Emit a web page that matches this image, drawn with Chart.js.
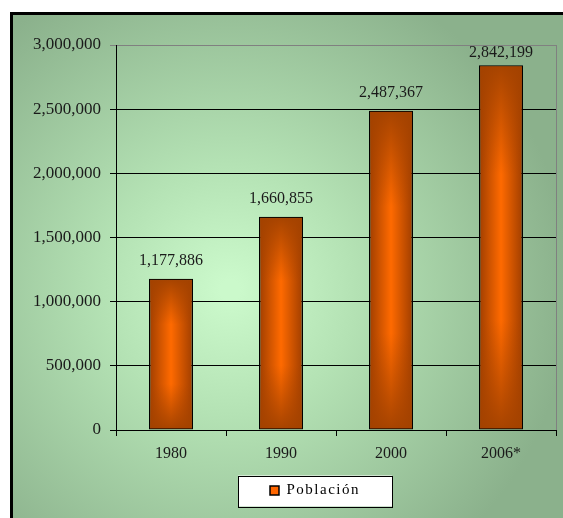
<!DOCTYPE html>
<html lang="es">
<head>
  <meta charset="UTF-8">
  <title>Población</title>
  <script src="https://cdn.jsdelivr.net/npm/chart.js"></script>
  <style>
    html, body { margin: 0; padding: 0; background: #fff; }
    #wrap { width: 563px; height: 518px; position: relative; }
  </style>
</head>
<body>
  <div id="wrap"><canvas id="popChart" width="563" height="518"></canvas></div>

  <script>
    // datos
    const years = ['1980', '1990', '2000', '2006*'];
    const population = [1177886, 1660855, 2487367, 2842199];
    const yTicksMax = 3000000;
    const yTicksStep = 500000;
    const seriesName = 'Población';

    const serif = "'Liberation Serif', 'Times New Roman', serif";
    const fmt = (n) => n.toLocaleString('en-US');
    const legendPad = 10;

    // fondo, marco y caja de la leyenda
    const frame = {
      id: 'frame',
      afterLayout(chart) {
        const lg = chart.legend;
        const shift = 315 - (lg.left + lg.right) / 2;
        lg.left += shift;
        lg.right += shift;
      },
      beforeDraw(chart) {
        const { ctx, width, height } = chart;
        ctx.save();
        ctx.fillStyle = '#fff';
        ctx.fillRect(0, 0, width, height);
        const g = ctx.createRadialGradient(230, 290, 10, 230, 290, 340);
        g.addColorStop(0, '#CBF9CB');
        g.addColorStop(0.35, '#B4E2B4');
        g.addColorStop(1, '#8BB18C');
        ctx.fillStyle = g;
        ctx.fillRect(13, 15, width, height);
        ctx.strokeStyle = '#000';
        ctx.lineWidth = 3;
        ctx.strokeRect(11.5, 13.5, width + 20, height + 20);

        // caja blanca de la leyenda
        const lg = chart.legend;
        const cx = (lg.left + lg.right) / 2;
        const half = (lg.lineWidths[0] - legendPad) / 2 + 32;
        const cy = lg.top + legendPad + 7.5;
        ctx.fillStyle = '#fff';
        ctx.fillRect(cx - half, cy - 15, half * 2, 31);
        ctx.lineWidth = 1;
        ctx.strokeStyle = '#000';
        ctx.strokeRect(Math.round(cx - half) + 0.5, Math.round(cy - 15) + 0.5, Math.round(half * 2), 31);
        ctx.restore();
      }
    };

    // espaciado de letras en la leyenda
    const legendSpacing = {
      id: 'legendSpacing',
      afterInit(chart) {
        const lg = chart.legend;
        const ctx = chart.ctx;
        ['fit', 'draw'].forEach(fn => {
          const orig = lg[fn].bind(lg);
          lg[fn] = function () {
            ctx.save();
            ctx.letterSpacing = '1.5px';
            const r = orig(...arguments);
            ctx.restore();
            return r;
          };
        });
      }
    };

    // sombreado vertical, borde derecho y etiquetas de valor
    const barExtras = {
      id: 'barExtras',
      afterDatasetsDraw(chart) {
        const { ctx, chartArea } = chart;
        const meta = chart.getDatasetMeta(0);
        ctx.save();
        // borde gris del área de trazado (derecha)
        ctx.strokeStyle = '#808080';
        ctx.lineWidth = 1;
        ctx.beginPath();
        ctx.moveTo(Math.round(chartArea.right) + 0.5, chartArea.top);
        ctx.lineTo(Math.round(chartArea.right) + 0.5, chartArea.bottom);
        ctx.stroke();

        meta.data.forEach((bar, i) => {
          const { x, y, base, width } = bar.getProps(['x', 'y', 'base', 'width'], true);
          const l = x - width / 2 + 1, r = x + width / 2 - 1;
          const t = y + 1, b = base - 1;
          const vg = ctx.createLinearGradient(0, t, 0, b);
          vg.addColorStop(0, 'rgba(163,66,0,0.95)');
          vg.addColorStop(0.3, 'rgba(163,66,0,0.0)');
          vg.addColorStop(0.7, 'rgba(163,66,0,0.0)');
          vg.addColorStop(1, 'rgba(163,66,0,0.95)');
          ctx.fillStyle = vg;
          ctx.fillRect(l, t, r - l, b - t);

          ctx.fillStyle = '#1a1a1a';
          ctx.font = '16px ' + serif;
          ctx.textAlign = 'center';
          ctx.textBaseline = 'middle';
          const ly = Math.max(y - 18, chartArea.top + 8);
          ctx.fillText(fmt(population[i]), x, ly);
        });
        ctx.restore();
      }
    };

    const barFill = (c) => {
      const chart = c.chart;
      const xs = chart.scales && chart.scales.x;
      if (!xs || c.dataIndex == null) return '#E05A00';
      const cx = xs.getPixelForValue(c.dataIndex);
      const w = xs.width / years.length * 0.4;
      const g = chart.ctx.createLinearGradient(cx - w / 2, 0, cx + w / 2, 0);
      g.addColorStop(0, '#A03E00');
      g.addColorStop(0.18, '#C24E00');
      g.addColorStop(0.5, '#FF6A00');
      g.addColorStop(0.82, '#C24E00');
      g.addColorStop(1, '#A03E00');
      return g;
    };

    new Chart(document.getElementById('popChart'), {
      type: 'bar',
      data: {
        labels: years,
        datasets: [{
          label: seriesName,
          data: population,
          backgroundColor: barFill,
          borderColor: '#000',
          borderWidth: 1.5,
          borderSkipped: false,
          categoryPercentage: 1,
          barPercentage: 0.4
        }]
      },
      options: {
        responsive: false,
        animation: false,
        layout: { padding: { left: 13, top: 45, right: 7, bottom: 10 } },
        scales: {
          x: {
            afterFit: (s) => { s.height = 43; },
            grid: { offset: true, drawOnChartArea: false, drawTicks: true, tickLength: 6, color: '#000', lineWidth: 1 },
            border: { color: '#000', width: 1 },
            ticks: { color: '#1a1a1a', font: { family: serif, size: 16 }, padding: 8 }
          },
          y: {
            min: 0,
            max: yTicksMax,
            afterFit: (s) => { s.width = 103; },
            grid: {
              color: (c) => c.tick && c.tick.value === yTicksMax ? '#808080' : '#000',
              lineWidth: 1,
              tickLength: 6
            },
            border: { color: '#000', width: 1 },
            ticks: {
              stepSize: yTicksStep,
              color: '#1a1a1a',
              font: { family: serif, size: 17 },
              padding: 9,
              callback: (v) => fmt(v)
            }
          }
        },
        plugins: {
          tooltip: { enabled: false },
          legend: {
            position: 'bottom',
            labels: {
              boxWidth: 9,
              boxHeight: 9,
              padding: legendPad,
              color: '#1a1a1a',
              font: { family: serif, size: 15 },
              generateLabels: () => [{
                text: seriesName,
                fillStyle: '#FF6600',
                strokeStyle: '#000',
                lineWidth: 1.5,
                datasetIndex: 0
              }]
            }
          }
        }
      },
      plugins: [frame, legendSpacing, barExtras]
    });
  </script>
</body>
</html>
